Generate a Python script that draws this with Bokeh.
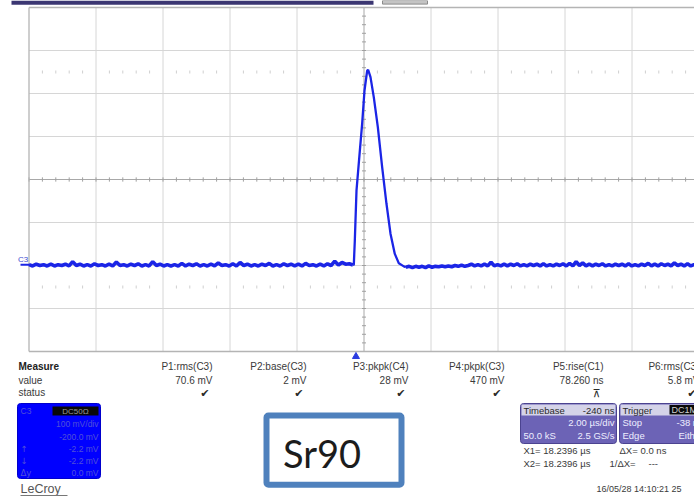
import numpy as np
from bokeh.plotting import figure
from bokeh.layouts import column
from bokeh.models import Range1d
from bokeh.core.properties import value
from bokeh.embed import file_html
from bokeh.resources import INLINE

# ---------------- data ----------------
time_per_div_us = 2.0
volt_per_div_mv = 100.0
trigger_time_us = -0.24
grid_time_us = [-10, -8, -6, -4, -2, 0, 2, 4, 6, 8, 10]
grid_volt_mv = [-200, -100, 0, 100, 200, 300, 400, 500, 600]

baseline_left_start_us = -10.0
baseline_left_end_us = -0.33
baseline_left_mv = [2, -1, 3, 0, 2, -1, 3, -1, 2, 0,
                    3, -1, 9, 0, 3, -1, 2, -1, 4, 0,
                    2, -1, 3, -1, 8, 0, 2, -1, 3, 0,
                    4, -1, 2, -1, 9, 0, 3, -1, 2, -1,
                    2, -1, 5, -1, 3, 0, 4, -1, 2, -1,
                    3, -1, 6, 0, 2, -1, 4, -1, 7, 0,
                    3, -1, 2, -1, 3, 0, 5, -1, 2, -1,
                    4, 0, 3, -1, 3, -1, 5, 0, 2, -1,
                    3, -1, 4, 0, 10, 1, 7, 3, 4, 1]

pulse_t_us = [-0.33, -0.304, -0.274, -0.224, -0.124, -0.055, 0.015, 0.095, 0.124,
              0.194, 0.293, 0.413, 0.542, 0.672, 0.791, 0.920, 1.040, 1.189, 1.25]
pulse_mv = [1, 2, 58, 174, 267, 330, 407, 453, 455,
            438, 391, 322, 229, 143, 74, 27, 5, -2, -4]

baseline_right_start_us = 1.25
baseline_right_end_us = 9.95
baseline_right_mv = [-4, -2, -5, -2, -4, -2, -5, -1, -4, -2,
                     -3, -1, -3, -1, -3, 0, -2, 1, -2, 0,
                     3, -1, 2, -1, 3, -1, 8, -1, 2, -1,
                     3, -1, 3, 0, 4, -1, 2, -1, 3, 0,
                     3, -1, 4, -1, 2, -1, 3, 0, 4, -1,
                     5, -1, 9, 0, 6, -1, 3, -1, 3, 0,
                     4, -1, 2, -1, 3, 0, 3, -1, 4, -1,
                     2, -1, 3, 0, 5, -1, 3, -1, 4, 0,
                     3, -1, 6, 0, 3, -1, 4, -1, 2, -1]

measure_names = ["P1:rms(C3)", "P2:base(C3)", "P3:pkpk(C4)", "P4:pkpk(C3)", "P5:rise(C1)", "P6:rms(C3)"]
measure_values = ["70.6 mV", "2 mV", "28 mV", "470 mV", "78.260 ns", "5.8 mV"]
measure_status = ["\u2714", "\u2714", "\u2714", "\u2714", "\u22bc", "\u2714"]

# ---------------- helpers ----------------
TRACE = "#1b25e6"
SANS = "Liberation Sans"


def base_fig(w, h, xr, yr):
    f = figure(width=w, height=h, x_range=xr, y_range=yr, output_backend="svg",
               toolbar_location=None, x_axis_location=None, y_axis_location=None,
               min_border=0, outline_line_color=None,
               background_fill_color="white", border_fill_color="white")
    f.grid.visible = False
    return f


def txt(f, x, y, s, size, color, align="left", font=SANS, style="normal", baseline="middle"):
    f.text(x=[x], y=[y], text=[s], text_font=value(font), text_font_size=f"{size}px",
           text_color=color, text_align=align, text_baseline=baseline, text_font_style=style)


# ---------------- main scope screen (page rows 0..360) ----------------
PX_PER_DIV_X = 67.0
PX_PER_DIV_Y = 43.0
px_per_us = PX_PER_DIV_X / time_per_div_us
px_per_mv = PX_PER_DIV_Y / volt_per_div_mv
gt0, gt1 = grid_time_us[0], grid_time_us[-1]
gv0, gv1 = grid_volt_mv[0], grid_volt_mv[-1]
grid_left_px, grid_top_px, fig_h = 28.5, 7.0, 360


def y_of_px(py):
    return gv1 - (py - grid_top_px) / px_per_mv


def x_of_px(px):
    return gt0 + (px - grid_left_px) / px_per_us


main = base_fig(694, fig_h, Range1d(x_of_px(0), x_of_px(694)), Range1d(y_of_px(fig_h), y_of_px(0)))

# title bar strip at the very top of the screen
main.quad(left=[x_of_px(11)], right=[x_of_px(373)], top=[y_of_px(0)], bottom=[y_of_px(4.2)],
          fill_color="#3b3672", line_color=None)
main.quad(left=[x_of_px(382)], right=[x_of_px(427)], top=[y_of_px(0)], bottom=[y_of_px(3.6)],
          fill_color="#c4c4c4", line_color="#8a8a8a")

t_left = np.linspace(baseline_left_start_us, baseline_left_end_us, len(baseline_left_mv))
t_right = np.linspace(baseline_right_start_us, baseline_right_end_us, len(baseline_right_mv))

tc = 0.0
vc = 200.0

inner_t = [g for g in grid_time_us if g not in (gt0, tc)]
main.segment(x0=inner_t, y0=gv0, x1=inner_t, y1=gv1, line_color="#d6d6d6", line_width=1)
inner_v = [g for g in grid_volt_mv if g not in (gv0, gv1, vc)]
main.segment(x0=gt0, y0=inner_v, x1=gt1, y1=inner_v, line_color="#d6d6d6", line_width=1)

# dotted tick rows
row_ticks = [x for x in np.arange(gt0, gt1, time_per_div_us / 5)
             if abs(x / time_per_div_us - round(x / time_per_div_us)) > 1e-6]
for yr in (vc + 2.5 * volt_per_div_mv, vc - 2.5 * volt_per_div_mv):
    main.segment(x0=row_ticks, y0=yr - 3.5, x1=row_ticks, y1=yr + 3.5, line_color="#cfcfcf", line_width=1)

# center lines with ticks
main.segment(x0=[gt0], y0=[vc], x1=[gt1], y1=[vc], line_color="#a8a8a8", line_width=1)
main.segment(x0=[tc], y0=[gv0], x1=[tc], y1=[gv1], line_color="#a8a8a8", line_width=1)
ht = list(np.arange(gt0, gt1 + 0.01, time_per_div_us / 5))
main.segment(x0=ht, y0=vc - 5, x1=ht, y1=vc + 5, line_color="#a0a0a0", line_width=1)
vt = list(np.arange(gv0, gv1 + 0.1, volt_per_div_mv / 5))
main.segment(x0=tc - 0.06, y0=vt, x1=tc + 0.06, y1=vt, line_color="#a0a0a0", line_width=1)

# border
main.segment(x0=[gt0, gt0, gt0], y0=[gv0, gv1, gv0], x1=[gt0, gt1, gt1], y1=[gv1, gv1, gv0],
             line_color="#b4b4b4", line_width=1.3)

# trace: noisy baseline band + pulse
main.line(t_left, baseline_left_mv, line_color=TRACE, line_width=3.6)
main.line(t_right, baseline_right_mv, line_color=TRACE, line_width=3.6)
main.line(pulse_t_us, pulse_mv, line_color=TRACE, line_width=2.3)

# channel marker and trigger marker
main.segment(x0=[x_of_px(20)], y0=[2], x1=[gt0], y1=[2], line_color=TRACE, line_width=2)
txt(main, x_of_px(17.5), 15, "C3", 8, "#3b4ad0")
main.scatter([trigger_time_us], [y_of_px(356)], marker="triangle", size=7,
             fill_color="#2a3ce0", line_color="#2a3ce0")

# ---------------- bottom panel (page rows 360..498) ----------------
bot = base_fig(694, 498 - fig_h, Range1d(0, 694), Range1d(498, fig_h))
TXT = "#3a3a3a"
row_y = [366, 380, 392]
txt(bot, 18, row_y[0], "Measure", 10, "#222", style="bold")
txt(bot, 18, row_y[1], "value", 10, TXT)
txt(bot, 18, row_y[2], "status", 10, TXT)
col_right = [212, 306, 408, 504, 603, 699]
for xr, nm, vl, st in zip(col_right, measure_names, measure_values, measure_status):
    txt(bot, xr, row_y[0], nm, 10, TXT, align="right")
    txt(bot, xr, row_y[1], vl, 10, TXT, align="right")
    txt(bot, xr - 3, row_y[2] + 1, st, 11, "#2a2a2a", align="right", font="DejaVu Sans")

# channel descriptor box
bot.quad(left=[17], right=[100], top=[403], bottom=[478], fill_color="#0000ff", line_color="#0000cc",
         border_radius=3)
BTXT = "#5050d8"
txt(bot, 20, 410.5, "C3", 8.5, BTXT)
bot.quad(left=[52], right=[98], top=[406], bottom=[415], fill_color="#080808", line_color=None)
txt(bot, 75, 410.5, "DC50\u03a9", 8, "#9a9a9a", align="center")
for yy, s in zip([423, 436, 448, 460, 472], ["100 mV/div", "-200.0 mV", "-2.2 mV", "-2.2 mV", "0.0 mV"]):
    txt(bot, 98, yy, s, 8.5, BTXT, align="right")
for yy, s in zip([448, 460, 472], ["\u2191", "\u2193", "\u0394y"]):
    txt(bot, 20, yy, s, 8.5, BTXT, font="DejaVu Sans")

txt(bot, 20, 488, "LeCroy", 12.5, "#555")
bot.segment(x0=[20], y0=[495], x1=[67], y1=[495], line_color="#777", line_width=1)

# Sr90 label box
bot.quad(left=[266], right=[401], top=[415], bottom=[484.3], fill_color="white", line_color="#4f81bd",
         line_width=6, border_radius=2)
txt(bot, 321.5, 452, "Sr90", 38, "#1c1c1c", align="center", font="Lato", baseline="middle")

# timebase / trigger boxes
PURP = "#6c63b6"
HEAD = "#d4d3e8"
for l, r in ((520, 616), (619, 710)):
    bot.quad(left=[l], right=[r], top=[403], bottom=[443], fill_color=PURP, line_color="#4b4390",
             border_radius=3)
    bot.quad(left=[l + 1], right=[r - 1], top=[404], bottom=[415], fill_color=HEAD, line_color=None)
WT = "#eeeeff"
txt(bot, 523, 409.5, "Timebase", 9.5, "#2a2a2a")
txt(bot, 614, 409.5, "-240 ns", 9.5, "#2a2a2a", align="right")
txt(bot, 614, 422, "2.00 \u00b5s/div", 9.5, WT, align="right")
txt(bot, 523, 435, "50.0 kS", 9.5, WT)
txt(bot, 614, 435, "2.5 GS/s", 9.5, WT, align="right")
txt(bot, 622, 409.5, "Trigger", 9.5, "#2a2a2a")
bot.quad(left=[669], right=[700], top=[404.5], bottom=[414], fill_color="#0a0a0a", line_color=None)
txt(bot, 671, 409.5, "DC1M", 9, "#cfcfcf")
txt(bot, 622, 422, "Stop", 9.5, WT)
txt(bot, 676, 422, "-38 mV", 9.5, WT)
txt(bot, 622, 435, "Edge", 9.5, WT)
txt(bot, 678, 435, "Either", 9.5, WT)

txt(bot, 523, 450, "X1= 18.2396 \u00b5s", 9.5, TXT)
txt(bot, 619, 450, "\u0394X=", 9.5, TXT)
txt(bot, 640, 450, "0.0 ns", 9.5, TXT)
txt(bot, 523, 463, "X2= 18.2396 \u00b5s", 9.5, TXT)
txt(bot, 609, 463, "1/\u0394X=", 9.5, TXT)
txt(bot, 648, 463, "---", 9.5, TXT)
txt(bot, 596, 488, "16/05/28 14:10:21 25", 9, TXT)

layout = column(main, bot, spacing=0)
open("out.html", "w").write(file_html(layout, INLINE))
